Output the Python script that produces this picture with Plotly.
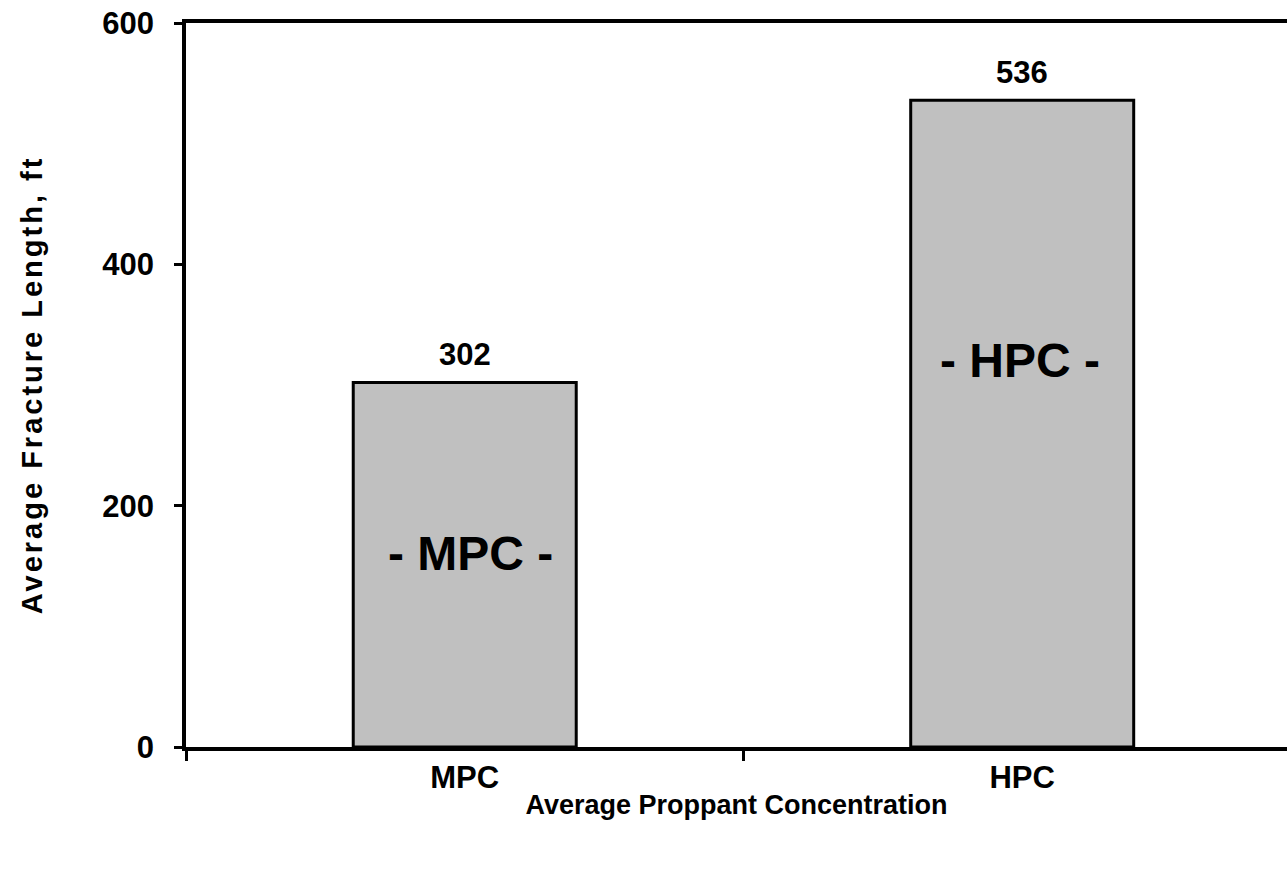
import plotly.graph_objects as go

categories = ["MPC", "HPC"]
values = [302, 536]
inner_labels = ["- MPC -", "- HPC -"]
inner_label_y = [160, 320]
y_ticks = [0, 200, 400, 600]

FONT = "Liberation Sans, Arial, sans-serif"

fig = go.Figure()
fig.add_trace(go.Bar(
    x=categories, y=values, width=0.4,
    marker=dict(color="#C0C0C0", line=dict(color="black", width=3)),
    hoverinfo="skip",
))

annotations = []
for c, v in zip(categories, values):
    annotations.append(dict(x=c, y=v, text=f"<b>{v}</b>", showarrow=False,
                            yanchor="middle", yshift=28,
                            font=dict(family=FONT, size=31, color="black")))
for c, t, yv, xs in zip(categories, inner_labels, inner_label_y, [6, -2]):
    annotations.append(dict(x=c, y=yv, text=f"<b>{t}</b>", showarrow=False,
                            xshift=xs, yanchor="middle",
                            font=dict(family=FONT, size=48, color="black")))

fig.update_layout(
    width=1287, height=878,
    margin=dict(l=186, r=0, t=23, b=131),
    plot_bgcolor="white", paper_bgcolor="white",
    showlegend=False,
    annotations=annotations,
    font=dict(family=FONT, color="black"),
    xaxis=dict(
        type="category", range=[-0.5, 1.475],
        showline=True, linecolor="black", linewidth=3.5, mirror=True,
        ticks="outside", tickson="boundaries", ticklen=10, tickwidth=3, tickcolor="black",
        tickfont=dict(family=FONT, size=31, color="black"),
        ticklabelstandoff=0,
        showgrid=False, zeroline=False,
        title=dict(text="<b>Average Proppant Concentration</b>",
                   font=dict(family=FONT, size=27, color="black"), standoff=2),
    ),
    yaxis=dict(
        range=[0, 600], tickvals=y_ticks,
        ticktext=[f"<b>{v}</b>" for v in y_ticks],
        showline=True, linecolor="black", linewidth=3.5,
        ticks="outside", ticklen=8, tickwidth=3, tickcolor="black",
        tickfont=dict(family=FONT, size=31, color="black"),
        ticklabelstandoff=14,
        showgrid=False, zeroline=False,
        title=dict(text="<b><span style='letter-spacing:3px'>Average Fracture Length, ft</span></b>",
                   font=dict(family=FONT, size=29, color="black"), standoff=52),
    ),
)
fig.update_xaxes(ticktext=[f"<b>{c}</b>" for c in categories], tickvals=categories)

fig.write_html("out.html")
